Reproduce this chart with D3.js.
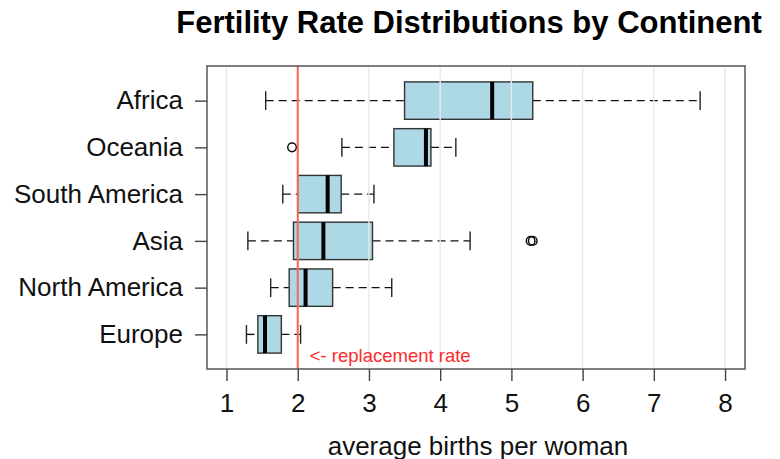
<!DOCTYPE html>
<html>
<head>
<meta charset="utf-8">
<script src="https://cdn.jsdelivr.net/npm/d3@7"></script>
<style>
  body { margin: 0; background: #fff; }
  svg { font-family: "Liberation Sans", Arial, Helvetica, sans-serif; }
</style>
</head>
<body>
<svg id="chart" width="780" height="459"></svg>
<script>
// continents, top to bottom as drawn
var categories = ["Africa", "Oceania", "South America", "Asia", "North America", "Europe"];
// five-number summaries
var whiskerLo = [1.55, 2.62, 1.79, 1.30, 1.62, 1.28];
var q1        = [3.50, 3.35, 2.00, 1.94, 1.88, 1.44];
var median    = [4.73, 3.80, 2.42, 2.36, 2.11, 1.54];
var q3        = [5.30, 3.87, 2.61, 3.05, 2.49, 1.77];
var whiskerHi = [7.65, 4.22, 3.07, 4.42, 3.32, 2.04];
var outliers  = [[], [1.92], [], [5.27, 5.30], [], []];
var xTicks = [1, 2, 3, 4, 5, 6, 7, 8];
var replacementRate = 2;

var data = categories.map(function (c, i) {
    return { name: c, lo: whiskerLo[i], q1: q1[i], med: median[i], q3: q3[i], hi: whiskerHi[i], out: outliers[i] };
});

// plot region (note: "top" is taken by window.top, so prefixed names)
var pLeft = 207, pRight = 745, pTop = 66, pBottom = 369;

var svg = d3.select("#chart");

var x = d3.scaleLinear().domain([0.726, 8.28]).range([pLeft, pRight]);
var y = d3.scalePoint()
    .domain(categories.slice().reverse())
    .range([pBottom, pTop])
    .padding(0.74);

var boxH = y.step() * 0.8;
var capH = y.step() * 0.4;

var g = svg.append("g");

// whiskers
var rows = g.selectAll(".row").data(data).join("g").attr("class", "row");

rows.append("line")
    .attr("x1", d => x(d.lo)).attr("x2", d => x(d.q1))
    .attr("y1", d => y(d.name)).attr("y2", d => y(d.name))
    .attr("stroke", "#111").attr("stroke-width", 1.4).attr("stroke-dasharray", "8,5");
rows.append("line")
    .attr("x1", d => x(d.q3)).attr("x2", d => x(d.hi))
    .attr("y1", d => y(d.name)).attr("y2", d => y(d.name))
    .attr("stroke", "#111").attr("stroke-width", 1.4).attr("stroke-dasharray", "8,5");

// staples
rows.selectAll(".cap").data(d => [d.lo, d.hi].map(v => ({ v: v, name: d.name })))
    .join("line").attr("class", "cap")
    .attr("x1", d => x(d.v)).attr("x2", d => x(d.v))
    .attr("y1", d => y(d.name) - capH / 2).attr("y2", d => y(d.name) + capH / 2)
    .attr("stroke", "#222").attr("stroke-width", 1.4);

// boxes
rows.append("rect")
    .attr("x", d => x(d.q1))
    .attr("width", d => x(d.q3) - x(d.q1))
    .attr("y", d => y(d.name) - boxH / 2)
    .attr("height", boxH)
    .attr("fill", "#add8e6")
    .attr("stroke", "#333")
    .attr("stroke-width", 1.4);

// medians
rows.append("line")
    .attr("x1", d => x(d.med)).attr("x2", d => x(d.med))
    .attr("y1", d => y(d.name) - boxH / 2).attr("y2", d => y(d.name) + boxH / 2)
    .attr("stroke", "#000").attr("stroke-width", 4);

// outliers
rows.selectAll(".out").data(d => d.out.map(v => ({ v: v, name: d.name })))
    .join("circle").attr("class", "out")
    .attr("cx", d => x(d.v)).attr("cy", d => y(d.name))
    .attr("r", 4.3)
    .attr("fill", "none").attr("stroke", "#111").attr("stroke-width", 1.5);

// vertical grid over the boxes
g.selectAll(".grid").data(xTicks).join("line").attr("class", "grid")
    .attr("x1", d => x(d)).attr("x2", d => x(d))
    .attr("y1", pTop).attr("y2", pBottom)
    .attr("stroke", "#e8e8e8").attr("stroke-width", 1.4);

// replacement rate
g.append("line")
    .attr("x1", x(replacementRate)).attr("x2", x(replacementRate))
    .attr("y1", pTop).attr("y2", pBottom)
    .attr("stroke", "#f5645a").attr("stroke-width", 2);
g.append("text")
    .attr("x", x(replacementRate) + 12)
    .attr("y", 362)
    .attr("fill", "#ff2a2a")
    .attr("font-size", 18.5)
    .text("<- replacement rate");

// frame
svg.append("rect")
    .attr("x", pLeft).attr("y", pTop)
    .attr("width", pRight - pLeft).attr("height", pBottom - pTop)
    .attr("fill", "none").attr("stroke", "#555").attr("stroke-width", 1.5);

// axes
var xAxis = svg.append("g")
    .attr("transform", "translate(0," + pBottom + ")")
    .call(d3.axisBottom(x).tickValues(xTicks).tickSize(12).tickPadding(13).tickFormat(d3.format("d")));
var yAxis = svg.append("g")
    .attr("transform", "translate(" + pLeft + ",0)")
    .call(d3.axisLeft(y).tickSize(12).tickPadding(12));

[xAxis, yAxis].forEach(function (a) {
    a.select(".domain").remove();
    a.selectAll(".tick line").attr("stroke", "#444").attr("stroke-width", 1.4);
    a.selectAll(".tick text").attr("fill", "#111").attr("font-size", 26).attr("font-family", null);
});

// title and axis label
svg.append("text")
    .attr("x", 469).attr("y", 33)
    .attr("text-anchor", "middle")
    .attr("font-size", 31).attr("font-weight", "bold")
    .attr("fill", "#000")
    .text("Fertility Rate Distributions by Continent");

svg.append("text")
    .attr("x", 478).attr("y", 455)
    .attr("text-anchor", "middle")
    .attr("font-size", 26)
    .attr("fill", "#111")
    .text("average births per woman");
</script>
</body>
</html>
